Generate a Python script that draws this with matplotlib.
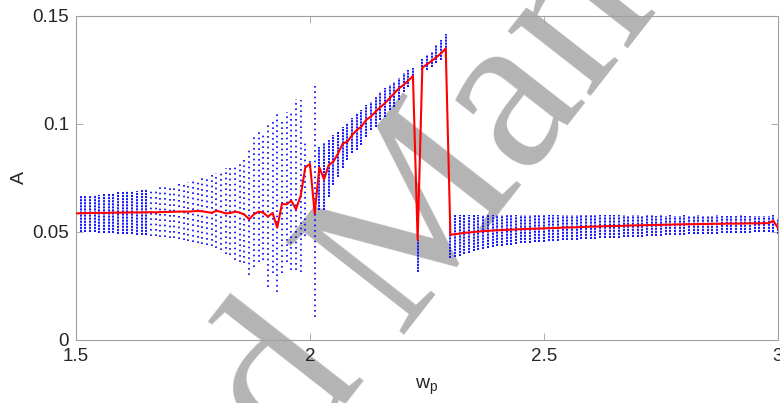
import numpy as np
import matplotlib
matplotlib.use("Agg")
import matplotlib.pyplot as plt

# ---------------- data ----------------
w_p = np.round(np.linspace(1.5, 3.0, 151), 2)

A_max = [
    0.0664, 0.0665, 0.0666, 0.0668, 0.0670, 0.0672, 0.0675, 0.0678, 0.0682, 0.0684,
    0.0686, 0.0688, 0.0690, 0.0692, 0.0695, 0.0698, 0.0702, 0.0706, 0.0710, 0.0713,
    0.0716, 0.0719, 0.0722, 0.0726, 0.0731, 0.0736, 0.0742, 0.0748, 0.0755, 0.0763,
    0.0772, 0.0780, 0.0795, 0.0802, 0.0810, 0.0826, 0.0841, 0.0880, 0.0950, 0.0970,
    0.0958, 0.1010, 0.1020, 0.1050, 0.1020, 0.1057, 0.1060, 0.1114, 0.1110, 0.0910,
    0.0835, 0.1190, 0.0895, 0.0910, 0.0926, 0.0949, 0.0965, 0.0988, 0.1003, 0.1026,
    0.1050, 0.1065, 0.1088, 0.1103, 0.1127, 0.1150, 0.1165, 0.1180, 0.1196, 0.1211,
    0.1234, 0.1250, 0.1261, 0.0463, 0.1300, 0.1319, 0.1335, 0.1366, 0.1389, 0.1417,
    0.0579, 0.0580, 0.0579, 0.0580, 0.0579, 0.0579, 0.0580, 0.0579, 0.0579, 0.0578,
    0.0579, 0.0578, 0.0579, 0.0578, 0.0578, 0.0579, 0.0578, 0.0578, 0.0577, 0.0578,
    0.0578, 0.0577, 0.0578, 0.0577, 0.0578, 0.0577, 0.0577, 0.0578, 0.0577, 0.0577,
    0.0578, 0.0577, 0.0577, 0.0577, 0.0578, 0.0577, 0.0577, 0.0577, 0.0576, 0.0577,
    0.0577, 0.0576, 0.0577, 0.0577, 0.0576, 0.0577, 0.0576, 0.0577, 0.0576, 0.0576,
    0.0577, 0.0576, 0.0576, 0.0577, 0.0576, 0.0576, 0.0576, 0.0577, 0.0576, 0.0576,
    0.0576, 0.0576, 0.0577, 0.0576, 0.0576, 0.0576, 0.0576, 0.0576, 0.0576, 0.0577,
    0.0560,
]

A_min = [
    0.0502, 0.0501, 0.0500, 0.0499, 0.0498, 0.0497, 0.0496, 0.0495, 0.0494, 0.0493,
    0.0491, 0.0490, 0.0489, 0.0487, 0.0486, 0.0485, 0.0483, 0.0481, 0.0478, 0.0476,
    0.0473, 0.0470, 0.0467, 0.0463, 0.0459, 0.0455, 0.0450, 0.0445, 0.0440, 0.0434,
    0.0428, 0.0417, 0.0400, 0.0394, 0.0370, 0.0363, 0.0355, 0.0300, 0.0340, 0.0360,
    0.0370, 0.0247, 0.0310, 0.0224, 0.0310, 0.0360, 0.0324, 0.0324, 0.0316, 0.0480,
    0.0795, 0.0108, 0.0600, 0.0600, 0.0664, 0.0718, 0.0756, 0.0795, 0.0833, 0.0864,
    0.0880, 0.0903, 0.0941, 0.0972, 0.0988, 0.1019, 0.1034, 0.1065, 0.1080, 0.1111,
    0.1150, 0.1173, 0.1196, 0.0315, 0.1250, 0.1250, 0.1265, 0.1281, 0.1296, 0.1312,
    0.0380, 0.0385, 0.0390, 0.0400, 0.0405, 0.0410, 0.0415, 0.0420, 0.0425, 0.0430,
    0.0433, 0.0437, 0.0440, 0.0442, 0.0445, 0.0447, 0.0449, 0.0450, 0.0452, 0.0454,
    0.0456, 0.0457, 0.0459, 0.0460, 0.0461, 0.0463, 0.0464, 0.0465, 0.0466, 0.0467,
    0.0468, 0.0469, 0.0470, 0.0471, 0.0472, 0.0473, 0.0474, 0.0475, 0.0476, 0.0477,
    0.0478, 0.0479, 0.0480, 0.0481, 0.0482, 0.0483, 0.0484, 0.0485, 0.0486, 0.0487,
    0.0488, 0.0489, 0.0490, 0.0490, 0.0491, 0.0492, 0.0492, 0.0493, 0.0494, 0.0494,
    0.0495, 0.0496, 0.0496, 0.0497, 0.0497, 0.0498, 0.0498, 0.0499, 0.0500, 0.0500,
    0.0490,
]

A_mean = [
    0.0586, 0.0587, 0.0587, 0.0588, 0.0588, 0.0589, 0.0588, 0.0589, 0.0590, 0.0589,
    0.0590, 0.0590, 0.0591, 0.0590, 0.0591, 0.0591, 0.0592, 0.0591, 0.0592, 0.0593,
    0.0593, 0.0594, 0.0594, 0.0595, 0.0594, 0.0596, 0.0597, 0.0596, 0.0592, 0.0589,
    0.0598, 0.0593, 0.0586, 0.0588, 0.0594, 0.0590, 0.0580, 0.0559, 0.0582, 0.0594,
    0.0590, 0.0571, 0.0588, 0.0520, 0.0630, 0.0628, 0.0645, 0.0605, 0.0667, 0.0799,
    0.0815, 0.0586, 0.0799, 0.0744, 0.0810, 0.0826, 0.0864, 0.0910, 0.0918, 0.0949,
    0.0972, 0.0988, 0.1019, 0.1034, 0.1057, 0.1077, 0.1096, 0.1119, 0.1142, 0.1165,
    0.1181, 0.1201, 0.1222, 0.0463, 0.1261, 0.1276, 0.1292, 0.1309, 0.1327, 0.1350,
    0.0487, 0.0490, 0.0493, 0.0496, 0.0498, 0.0500, 0.0502, 0.0504, 0.0505, 0.0507,
    0.0508, 0.0509, 0.0510, 0.0511, 0.0512, 0.0513, 0.0514, 0.0515, 0.0515, 0.0516,
    0.0517, 0.0518, 0.0518, 0.0519, 0.0520, 0.0521, 0.0521, 0.0522, 0.0523, 0.0524,
    0.0525, 0.0525, 0.0526, 0.0527, 0.0527, 0.0528, 0.0528, 0.0529, 0.0530, 0.0530,
    0.0531, 0.0531, 0.0532, 0.0532, 0.0533, 0.0533, 0.0534, 0.0534, 0.0535, 0.0535,
    0.0536, 0.0536, 0.0536, 0.0537, 0.0537, 0.0537, 0.0538, 0.0538, 0.0538, 0.0539,
    0.0539, 0.0539, 0.0539, 0.0540, 0.0540, 0.0540, 0.0540, 0.0541, 0.0541, 0.0552,
    0.0518,
]

x_ticks = [1.5, 2.0, 2.5, 3.0]
x_tick_labels = ["1.5", "2", "2.5", "3"]
y_ticks = [0.0, 0.05, 0.10, 0.15]
y_tick_labels = ["0", "0.05", "0.1", "0.15"]
x_label = r"w$_\mathregular{p}$"
y_label = "A"
watermark_left = "Accepted"
watermark_right = "Manuscript"

# ---------------- figure ----------------
plt.rcParams["font.family"] = ["Liberation Sans", "DejaVu Sans"]
W, H = 780, 403
fig = plt.figure(figsize=(W / 100, H / 100), dpi=100)
ax = fig.add_axes([76 / W, (H - 340) / H, (778 - 76) / W, (340 - 16) / H])
ax.patch.set_alpha(0)

# watermark (under the data)
ang = 52.0
ux, uy = np.cos(np.radians(ang)), np.sin(np.radians(ang))
px, py = 398, 335   # anchor in pixels (from top)
wm_kw = dict(rotation=ang, rotation_mode="anchor", va="baseline",
             color="#b4b4b4", fontsize=165, family="Liberation Serif", zorder=-5)
fig.text(px / W, 1 - py / H, watermark_right, ha="left", **wm_kw)
gap = 52
fig.text((px - gap * ux) / W, 1 - (py + gap * uy) / H, watermark_left, ha="right", **wm_kw)

w_arr = np.asarray(w_p)
lo = np.asarray(A_min)
hi = np.asarray(A_max)
chaotic = (w_arr >= 1.655) & (w_arr <= 2.015)
dense = ~chaotic
ax.vlines(w_arr[dense], lo[dense], hi[dense], colors="#0000ff",
          linewidth=1.3, linestyles=(0, (1.2, 0.5)), zorder=2)
ax.vlines(w_arr[chaotic], lo[chaotic], hi[chaotic], colors="#0000ff",
          linewidth=1.2, linestyles=(0, (1.0, 2.2)), zorder=2)
ax.plot(w_arr, A_mean, color="#ff0000", linewidth=1.5, zorder=3)

ax.set_xlim(1.5, 3.0)
ax.set_ylim(0, 0.15)
ax.set_xticks(x_ticks)
ax.set_xticklabels(x_tick_labels)
ax.set_yticks(y_ticks)
ax.set_yticklabels(y_tick_labels)

spine_c = "#a0a0a0"
for s in ax.spines.values():
    s.set_color(spine_c)
    s.set_linewidth(0.8)
ax.tick_params(direction="in", length=5, width=0.6, color=spine_c,
               labelsize=13.5, labelcolor="#262626", top=True, right=True)
ax.tick_params(axis="x", pad=6)
ax.tick_params(axis="y", pad=5)

ax.set_xlabel(x_label, fontsize=14, color="#262626", labelpad=8)
ax.set_ylabel(y_label, fontsize=14, color="#262626", labelpad=3)

fig.savefig("out.png", dpi=100)
